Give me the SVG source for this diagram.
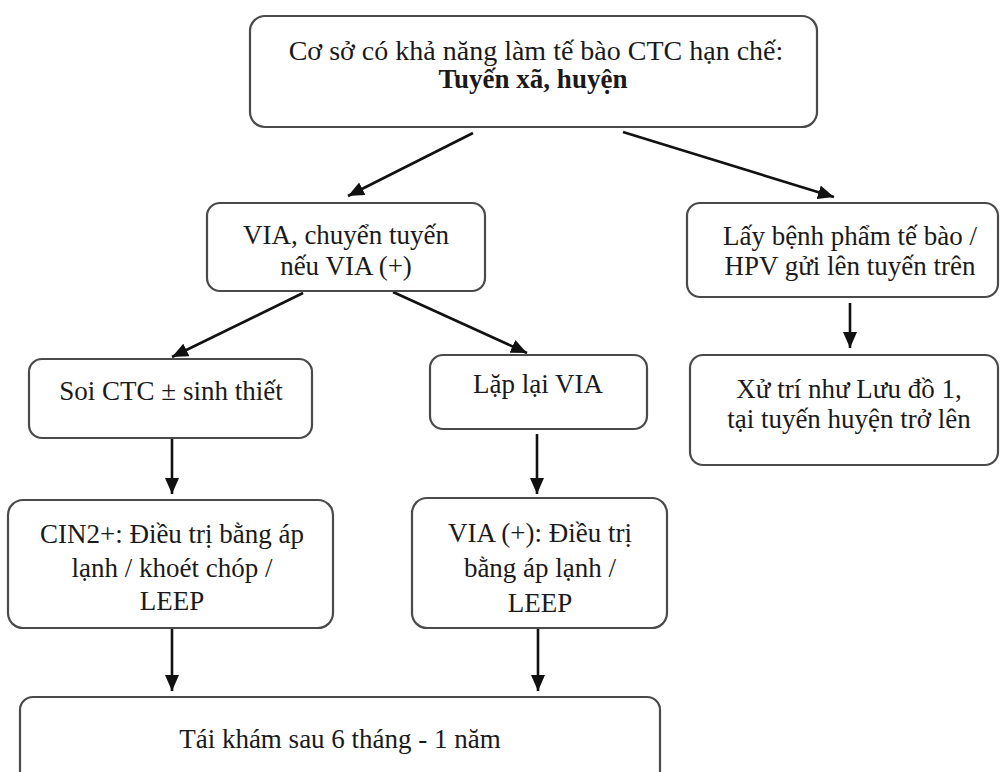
<svg xmlns="http://www.w3.org/2000/svg" width="1000" height="772" viewBox="0 0 1000 772">
<style>
.box{fill:#fff;stroke:#4a4a4a;stroke-width:2.2}
.t{font-family:"Liberation Serif","Times New Roman",serif;font-size:27px;fill:#1a1a1a;text-anchor:middle}
.b{font-weight:bold}
.c{stroke:#111;stroke-width:2.6;fill:none;marker-end:url(#ah)}
</style>
<defs>
<marker id="ah" markerUnits="userSpaceOnUse" markerWidth="16" markerHeight="14" viewBox="0 0 16 14" refX="16" refY="7" orient="auto">
<path d="M0,0 L16,7 L0,14 z" fill="#111"/>
</marker>
</defs>
<rect width="1000" height="772" fill="#fff"/>
<g id="connectors">
<line class="c" x1="473" y1="133" x2="348" y2="196"/>
<line class="c" x1="623" y1="132" x2="834" y2="197"/>
<line class="c" x1="303" y1="293" x2="172" y2="357"/>
<line class="c" x1="393" y1="292" x2="527" y2="353"/>
<line class="c" x1="850" y1="303" x2="850" y2="348"/>
<line class="c" x1="172" y1="438" x2="172" y2="494"/>
<line class="c" x1="537" y1="434" x2="537" y2="494"/>
<line class="c" x1="172" y1="628" x2="172" y2="691"/>
<line class="c" x1="538" y1="628" x2="538" y2="691"/>
</g>
<g id="n-top">
<rect class="box" x="250" y="16" width="567" height="111" rx="15"/>
<text class="t" x="536" y="60" style="font-size:28px">Cơ sở có khả năng làm tế bào CTC hạn chế:</text>
<text class="t b" x="533" y="88">Tuyến xã, huyện</text>
</g>
<g id="n-via">
<rect class="box" x="207" y="203" width="278" height="88" rx="13"/>
<text class="t" x="346" y="244">VIA, chuyển tuyến</text>
<text class="t" x="346" y="275">nếu VIA (+)</text>
</g>
<g id="n-lay">
<rect class="box" x="687" y="203" width="311" height="94" rx="13"/>
<text class="t" x="850" y="245">Lấy bệnh phẩm tế bào /</text>
<text class="t" x="850" y="275">HPV gửi lên tuyến trên</text>
</g>
<g id="n-xutri">
<rect class="box" x="690" y="355" width="308" height="110" rx="13"/>
<text class="t" x="849" y="398">Xử trí như Lưu đồ 1,</text>
<text class="t" x="849" y="428">tại tuyến huyện trở lên</text>
</g>
<g id="n-soi">
<rect class="box" x="29" y="359" width="283" height="79" rx="13"/>
<text class="t" x="171" y="400">Soi CTC ± sinh thiết</text>
</g>
<g id="n-laplai">
<rect class="box" x="430" y="355" width="217" height="74" rx="13"/>
<text class="t" x="538" y="393">Lặp lại VIA</text>
</g>
<g id="n-cin">
<rect class="box" x="8" y="500" width="325" height="128" rx="15"/>
<text class="t" x="172" y="543">CIN2+: Điều trị bằng áp</text>
<text class="t" x="172" y="577">lạnh / khoét chóp /</text>
<text class="t" x="172" y="610">LEEP</text>
</g>
<g id="n-viapos">
<rect class="box" x="412" y="498" width="255" height="130" rx="15"/>
<text class="t" x="540" y="542">VIA (+): Điều trị</text>
<text class="t" x="540" y="577">bằng áp lạnh /</text>
<text class="t" x="540" y="612">LEEP</text>
</g>
<g id="n-taikham">
<rect class="box" x="20" y="697" width="640" height="90" rx="13"/>
<text class="t" x="340" y="748">Tái khám sau 6 tháng - 1 năm</text>
</g>
</svg>
